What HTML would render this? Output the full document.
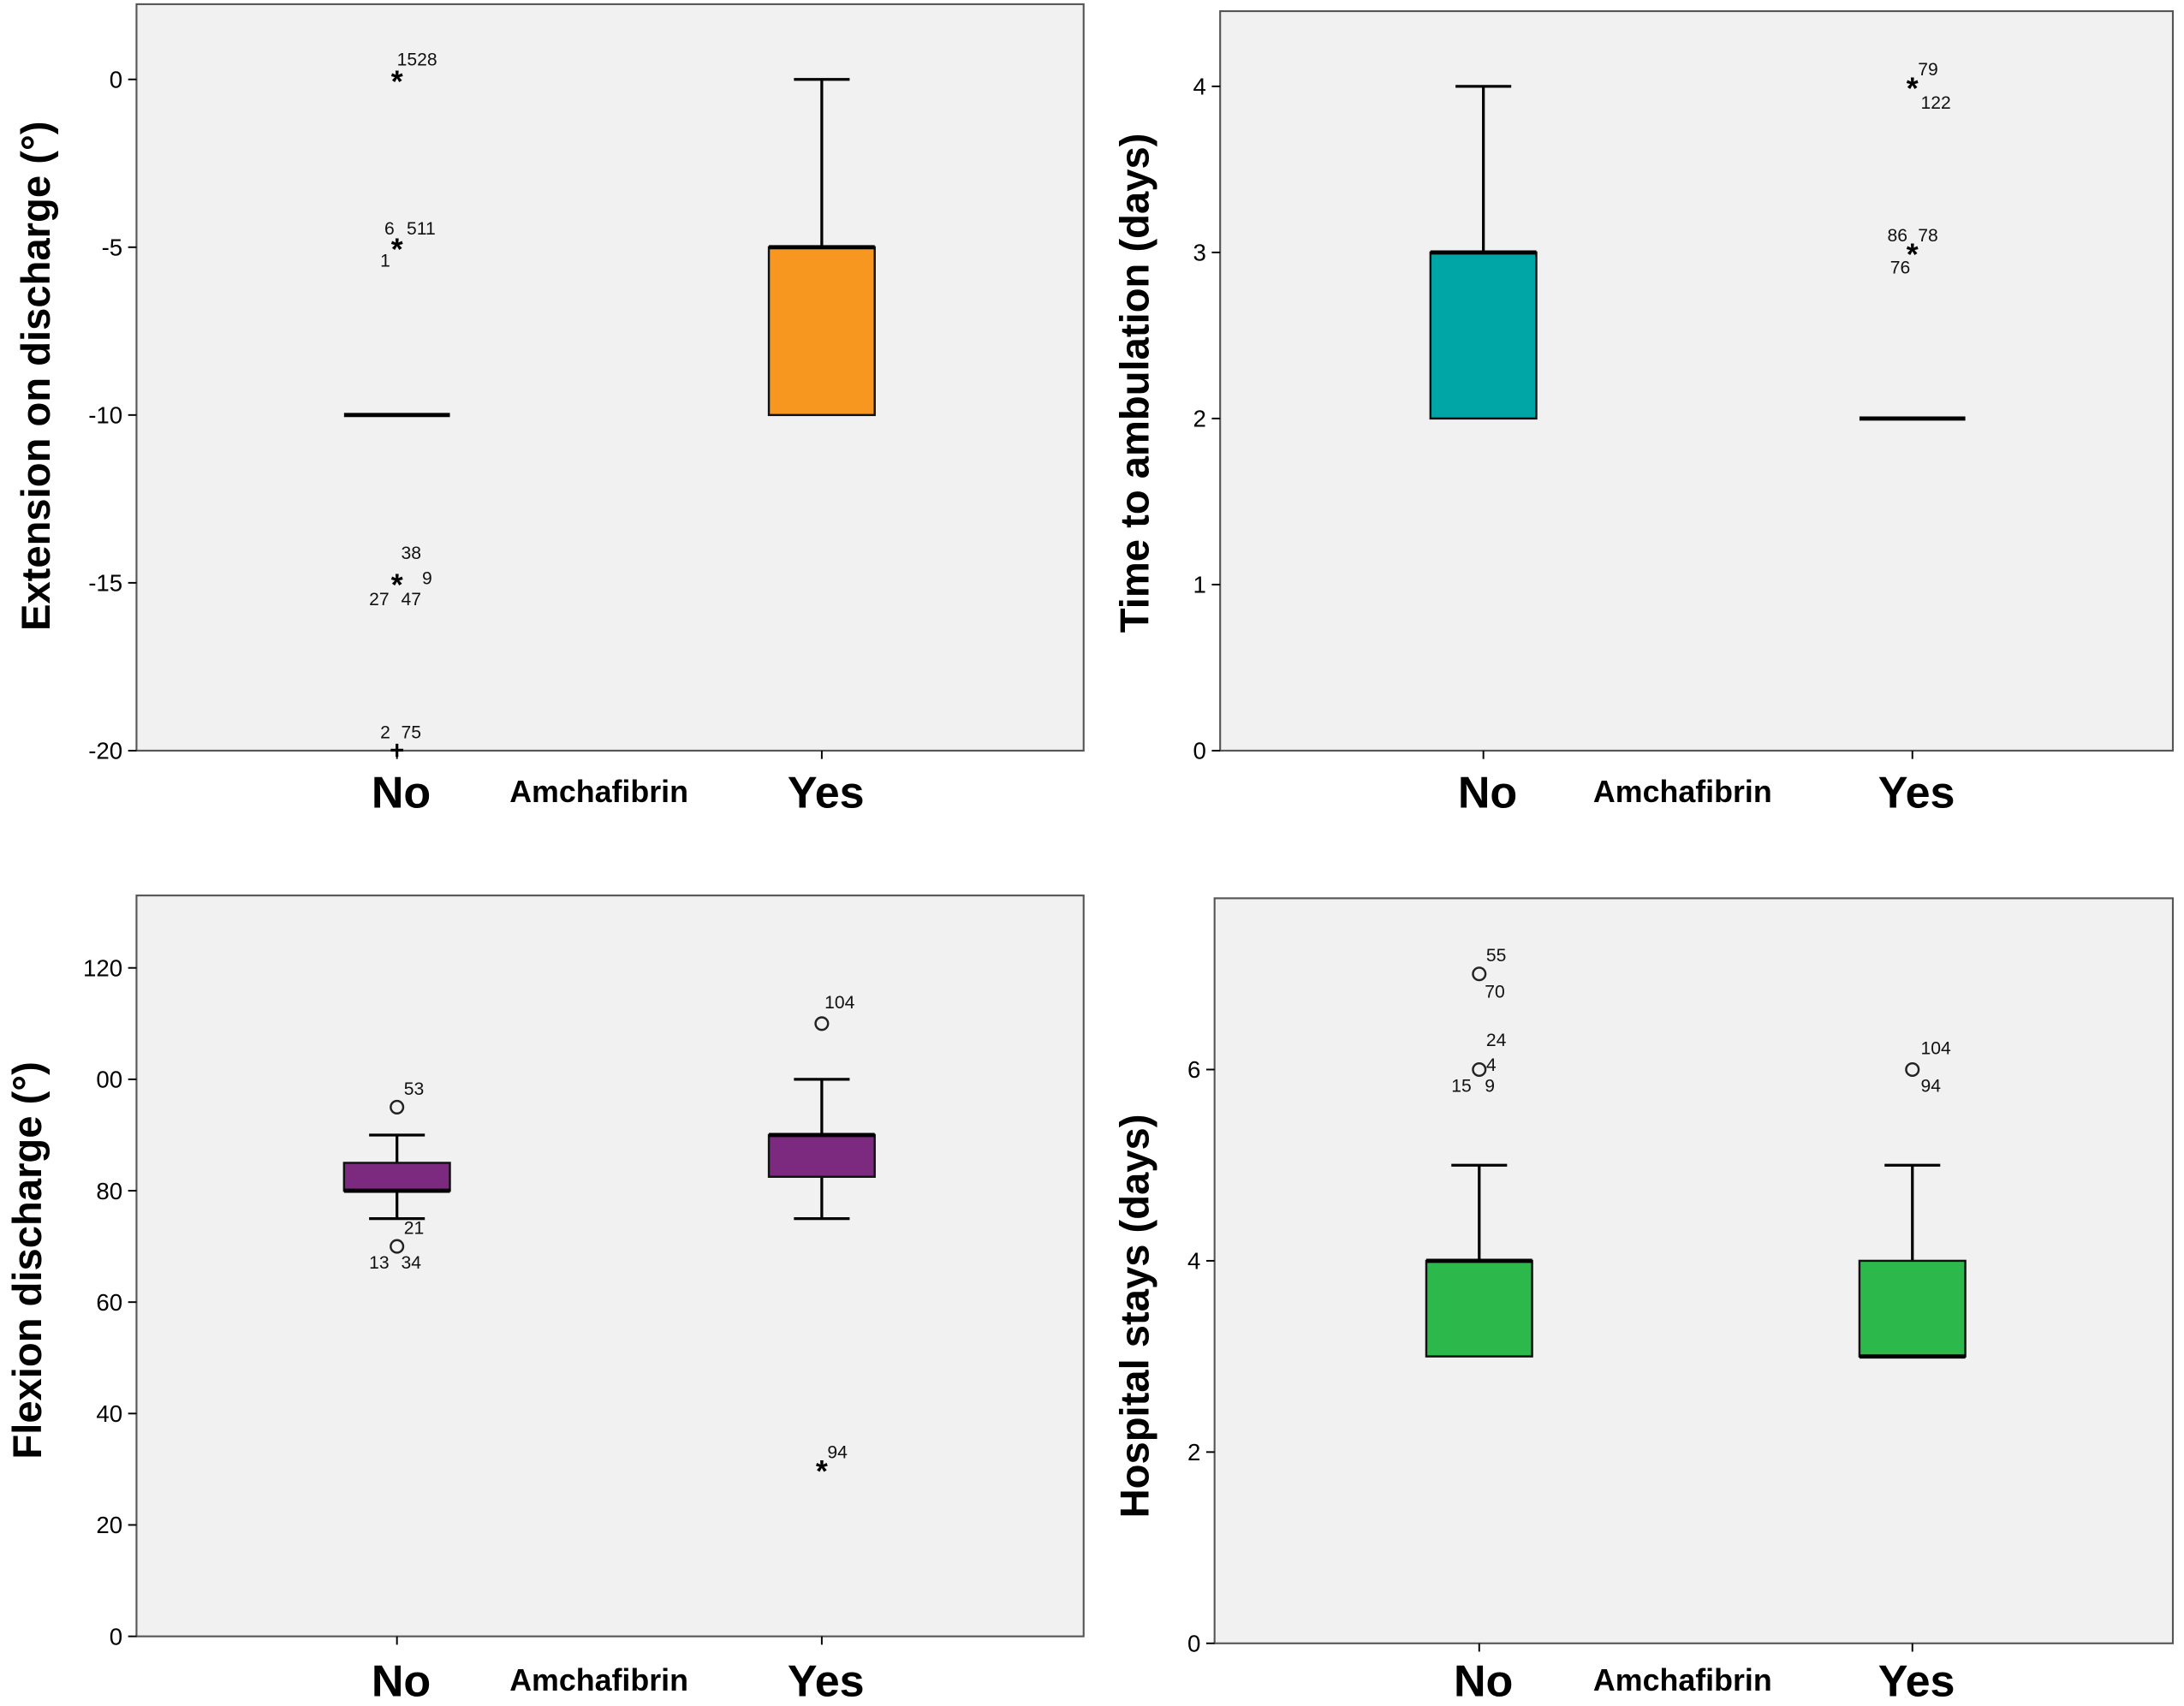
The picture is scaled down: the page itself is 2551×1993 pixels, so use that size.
<!DOCTYPE html>
<html><head><meta charset="utf-8"><style>
html,body{margin:0;padding:0;background:#fff;}
svg{display:block;font-family:"Liberation Sans",Arial,sans-serif;}
</style></head><body>
<svg id="chart" width="2551" height="1993" viewBox="0 0 1568 1225"></svg>
<script>
const categories = ["No","Yes"];
// panel definitions: domain + tick values
const p1Ticks = [0,-5,-10,-15,-20];
const p1Boxes = [ {q1:-10,med:-10,q3:-10,lo:-10,hi:-10}, {q1:-10,med:-5,q3:-5,lo:-10,hi:0} ];
const p1Outliers = [ {c:0,v:0,m:"*",labels:[["1528",0,-10]]}, {c:0,v:-5,m:"*",labels:[["6",-9,-9],["511",7,-9],["1",-12,14]]}, {c:0,v:-15,m:"*",labels:[["38",3,-17],["9",18,1],["27",-20,16],["47",3,16]]}, {c:0,v:-20,m:"+",labels:[["2",-12,-9],["75",3,-9]]} ];
const p2Ticks = [0,1,2,3,4];
const p2Boxes = [ {q1:2,med:3,q3:3,lo:2,hi:4}, {q1:2,med:2,q3:2,lo:2,hi:2} ];
const p2Outliers = [ {c:1,v:4,m:"*",labels:[["79",4,-8],["122",6,16]]}, {c:1,v:3,m:"*",labels:[["86",-18,-8],["78",4,-8],["76",-16,15]]} ];
const p3Ticks = [0,20,40,60,80,100,120];
const p3TickText = ["0","20","40","60","80","00","120"];
const p3Boxes = [ {q1:80,med:80,q3:85,lo:75,hi:90}, {q1:82.5,med:90,q3:90,lo:75,hi:100} ];
const p3Outliers = [ {c:0,v:95,m:"o",labels:[["53",5,-9]]}, {c:0,v:70,m:"o",labels:[["21",5,-9],["13",-20,16],["34",3,16]]}, {c:1,v:110,m:"o",labels:[["104",2,-11]]}, {c:1,v:30,m:"*",labels:[["94",4,-8]]} ];
const p4Ticks = [0,2,4,6];
const p4Boxes = [ {q1:3,med:4,q3:4,lo:3,hi:5}, {q1:3,med:3,q3:4,lo:3,hi:5} ];
const p4Outliers = [ {c:0,v:7,m:"o",labels:[["55",5,-9],["70",4,17]]}, {c:0,v:6,m:"o",labels:[["24",5,-17],["4",5,1],["15",-20,16],["9",4,16]]}, {c:1,v:6,m:"o",labels:[["104",6,-11],["94",6,16]]} ];

const NS="http://www.w3.org/2000/svg";
const svg=document.getElementById('chart');
function el(tag,attrs,parent,text){const e=document.createElementNS(NS,tag);for(const k in attrs)e.setAttribute(k,attrs[k]);if(text!==undefined)e.textContent=text;(parent||svg).appendChild(e);return e;}

const panels=[
 {name:"extension",x0:98,x1:778,y0:3,y1:539,vMin:-20,vMax:0,top:57,ticks:p1Ticks,tickText:null,boxes:p1Boxes,out:p1Outliers,cx:[285,590],color:"#F7971F",ylab:"Extension on discharge (°)",ylx:28,yly:270,xly:568,amx:430},
 {name:"ambulation",x0:876,x1:1560,y0:8,y1:539,vMin:0,vMax:4,top:62,ticks:p2Ticks,tickText:null,boxes:p2Boxes,out:p2Outliers,cx:[1065,1373],color:"#00A6A6",ylab:"Time to ambulation (days)",ylx:817,yly:275,xly:568,amx:1208},
 {name:"flexion",x0:98,x1:778,y0:643,y1:1175,vMin:0,vMax:120,top:695,ticks:p3Ticks,tickText:p3TickText,boxes:p3Boxes,out:p3Outliers,cx:[285,590],color:"#7B2A7F",ylab:"Flexion discharge (°)",ylx:22,yly:905,xly:1206,amx:430},
 {name:"hospital",x0:872,x1:1560,y0:645,y1:1180,vMin:0,vMax:6,top:768,ticks:p4Ticks,tickText:null,boxes:p4Boxes,out:p4Outliers,cx:[1062,1373],color:"#2DB84B",ylab:"Hospital stays (days)",ylx:817,yly:945,xly:1206,amx:1208}
];

panels.forEach(p=>{
 const g=el('g',{});
 
 
 const y=v=>p.y1-(v-p.vMin)/(p.vMax-p.vMin)*(p.y1-p.top);
 const bg=el('rect',{x:p.x0,y:p.y0,width:p.x1-p.x0,height:p.y1-p.y0,fill:"#F1F1F1",stroke:"#555","stroke-width":1.3},g);
 
 
 p.ticks.forEach((t,i)=>{
  el('line',{x1:p.x0-6,x2:p.x0,y1:y(t),y2:y(t),stroke:"#000","stroke-width":1.2},g);
  const tl=el('text',{x:p.x0-10,y:y(t)+6,"text-anchor":"end","font-size":17,fill:"#000"},g,p.tickText?p.tickText[i]:String(t));
  
  
 });
 p.cx.forEach(cx=>el('line',{x1:cx,x2:cx,y1:p.y1,y2:p.y1+6,stroke:"#000","stroke-width":1.2},g));
 const yl=el('text',{x:p.ylx,y:p.yly,transform:`rotate(-90 ${p.ylx} ${p.yly})`,"text-anchor":"middle","dominant-baseline":"middle","font-size":29,"font-weight":"bold"},g,p.ylab);
 
 
 categories.forEach((c,i)=>{
  const t=el('text',{x:p.cx[i]+3,y:p.xly+12,"text-anchor":"middle","font-size":32,"font-weight":"bold"},g,c);
  
  
 });
 const am=el('text',{x:p.amx,y:p.xly+8,"text-anchor":"middle","font-size":22,"font-weight":"bold"},g,"Amchafibrin");
 
 
 p.boxes.forEach((b,i)=>{
  const cx=p.cx[i],hw=38,cw=20;
  const bx=el('g',{},g);
  
  
  if(b.hi>b.q3){el('line',{x1:cx,x2:cx,y1:y(b.q3),y2:y(b.hi),stroke:"#000","stroke-width":2},bx);el('line',{x1:cx-cw,x2:cx+cw,y1:y(b.hi),y2:y(b.hi),stroke:"#000","stroke-width":2},bx);}
  if(b.lo<b.q1){el('line',{x1:cx,x2:cx,y1:y(b.q1),y2:y(b.lo),stroke:"#000","stroke-width":2},bx);el('line',{x1:cx-cw,x2:cx+cw,y1:y(b.lo),y2:y(b.lo),stroke:"#000","stroke-width":2},bx);}
  if(b.q3>b.q1) el('rect',{x:cx-hw,y:y(b.q3),width:2*hw,height:y(b.q1)-y(b.q3),fill:p.color,stroke:"#111","stroke-width":1.5},bx);
  el('line',{x1:cx-hw,x2:cx+hw,y1:y(b.med),y2:y(b.med),stroke:"#000","stroke-width":3},bx);
 });
 p.out.forEach(o=>{
  const cx=p.cx[o.c],cy=y(o.v);
  const og=el('g',{},g);
  
  
  if(o.m==="o") el('circle',{cx:cx,cy:cy,r:4.5,fill:"none",stroke:"#222","stroke-width":1.5},og);
  else el('text',{x:cx,y:cy+(o.m==="*"?9:6),"text-anchor":"middle","font-size":o.m==="*"?22:18,"font-weight":"bold"},og,o.m);
  o.labels.forEach(l=>el('text',{x:cx+l[1],y:cy+l[2],"font-size":13,fill:"#111"},og,l[0]));
 });
});
</script>
</body></html>
